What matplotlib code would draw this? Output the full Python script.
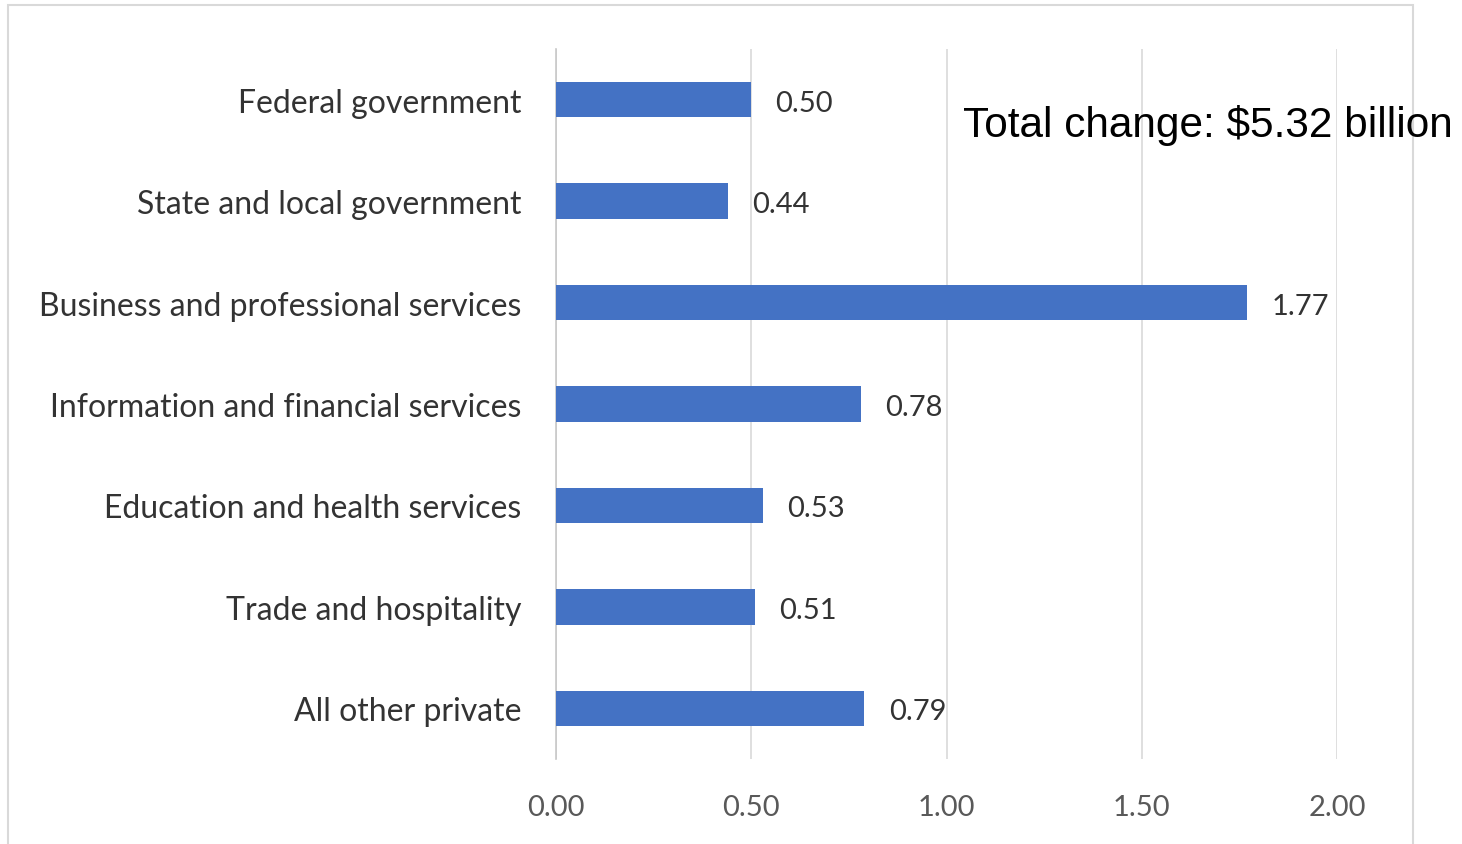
import matplotlib
matplotlib.use("Agg")
from matplotlib import pyplot as plt
from matplotlib.patches import Rectangle

# Data (top to bottom)
sectors = ["Federal government", "State and local government",
           "Business and professional services", "Information and financial services",
           "Education and health services", "Trade and hospitality", "All other private"]
changes = [0.50, 0.44, 1.77, 0.78, 0.53, 0.51, 0.79]
tick_vals = [0.0, 0.5, 1.0, 1.5, 2.0]
note = "Total change: $5.32 billion"

W, H = 1462, 845
fig = plt.figure(figsize=(W / 100, H / 100), dpi=100)
fig.patch.set_facecolor("white")

# Outer chart border
fig.patches.append(Rectangle((8 / W, -0.05), (1413 - 8) / W, 1.05 - 6 / H,
                             transform=fig.transFigure, fill=False,
                             edgecolor="#d9d9d9", linewidth=1.5))

ax = fig.add_axes([556 / W, 1 - 760 / H, (1337 - 556) / W, (760 - 50) / H])

ypos = list(range(len(sectors)))
ax.barh(ypos, changes, height=0.35, color="#4472C4", zorder=3)
ax.set_ylim(len(sectors) - 0.5, -0.5)
ax.set_xlim(0, 2.0)

ax.set_xticks(tick_vals)
ax.set_xticklabels(["%.2f" % v for v in tick_vals], fontsize=21,
                   color="#595959", family="Lato")
ax.set_yticks(ypos)
ax.set_yticklabels(sectors, fontsize=23, color="#333333", family="Lato")
ax.tick_params(axis="x", length=0, pad=25)
ax.tick_params(axis="y", length=0, pad=25)

ax.grid(axis="x", color="#d9d9d9", linewidth=1.2, zorder=0)
for s in ["top", "right", "bottom"]:
    ax.spines[s].set_visible(False)
ax.spines["left"].set_color("#c8c8c8")
ax.spines["left"].set_linewidth(1.2)

# Value labels
for y, v in zip(ypos, changes):
    ax.text(v + 0.062, y + 0.03, "%.2f" % v, va="center", ha="left",
            fontsize=21, color="#333333", family="Lato")

fig.text(963 / W, 1 - 125 / H, note, fontsize=30.5, family="Liberation Sans",
         va="center", ha="left", color="black")

fig.savefig("out.png", dpi=100)
